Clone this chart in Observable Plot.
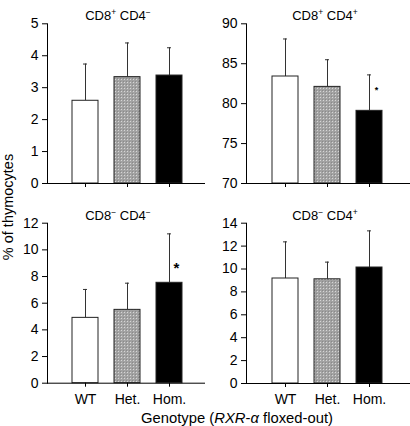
<!DOCTYPE html>
<html><head><meta charset="utf-8">
<script src="https://cdn.jsdelivr.net/npm/d3@7"></script>
<script src="https://cdn.jsdelivr.net/npm/@observablehq/plot@0.6"></script>
<style>
body{margin:0;background:#fff;}
#root{position:relative;width:410px;height:426px;font-family:"Liberation Sans",Arial,sans-serif;color:#000;overflow:hidden;}
.panel{position:absolute;}
.ttl{position:absolute;transform:translate(-50%,-50%);font-size:13px;white-space:nowrap;}
.ttl sup{font-size:8.5px;vertical-align:5px;line-height:0;}
.ylab{position:absolute;transform:translate(-50%,-50%) rotate(-90deg);font-size:14.5px;white-space:nowrap;}
.xlab{position:absolute;transform:translate(-50%,-50%);font-size:14.8px;white-space:nowrap;}
</style></head><body>
<svg width="0" height="0" style="position:absolute"><defs>
<pattern id="het" x="0" y="0" width="3" height="3" patternUnits="userSpaceOnUse">
<rect width="3" height="3" fill="#a2a2a2"/><rect x="1" y="1" width="1" height="1" fill="#d6d6d6"/><rect x="0" y="0" width="1" height="1" fill="#8a8a8a"/>
</pattern></defs></svg>
<div id="root"></div>
<script>
const genotypes = ["WT", "Het.", "Hom."];
const cd8Sign = ["+", "+", "\u2212", "\u2212"];
const cd4Sign = ["\u2212", "+", "\u2212", "+"];

const meanA = [2.59, 3.33, 3.38];   // CD8+ CD4-
const errA  = [3.74, 4.40, 4.25];
const sigA  = [null, null, null];
const meanB = [83.4, 82.1, 79.1];   // CD8+ CD4+
const errB  = [88.1, 85.5, 83.6];
const sigB  = [null, null, 81.7];
const meanC = [4.9, 5.5, 7.53];     // CD8- CD4-
const errC  = [7.03, 7.5, 11.2];
const sigC  = [null, null, 8.6];
const meanD = [9.17, 9.1, 10.13];   // CD8- CD4+
const errD  = [12.37, 10.6, 13.33];
const sigD  = [null, null, null];

const ticksA = [0, 1, 2, 3, 4, 5];
const ticksB = [70, 75, 80, 85, 90];
const ticksC = [0, 2, 4, 6, 8, 10, 12];
const ticksD = [0, 2, 4, 6, 8, 10, 12, 14];

const yTitle = "% of thymocytes";

const root = document.getElementById("root");

function panel(o) {
  const data = genotypes.map((g, i) => ({g, m: o.means[i], e: o.errs[i], s: o.sig[i]}));
  const base = o.ticks[0];
  const p = Plot.plot({
    width: o.width, height: o.height,
    marginLeft: o.mL, marginRight: 0, marginTop: o.mT, marginBottom: o.mB,
    style: {fontFamily: "Liberation Sans, Arial, sans-serif", fontSize: "14px", color: "#000", background: "transparent", overflow: "visible"},
    x: {domain: genotypes, paddingInner: 0.39, paddingOuter: 0.195, insetLeft: o.iL, insetRight: o.iR},
    y: {domain: [o.ticks[0], o.ticks[o.ticks.length - 1]]},
    color: {domain: genotypes, range: ["white", "url(#het)", "black"]},
    marks: [
      Plot.ruleX(data, {x: "g", y1: "m", y2: "e", stroke: "#333", strokeWidth: 1}),
      Plot.tickY(data, {x: "g", y: "e", stroke: "#333", insetLeft: 11, insetRight: 11}),
      Plot.barY(data, {x: "g", y1: base, y2: "m", fill: "g", stroke: "#222", strokeWidth: 1}),
      Plot.text(data.filter(d => d.s != null), {x: "g", y: "s", text: () => "*", dx: 7, fontSize: o.sigSize, fontWeight: "bold"}),
      Plot.ruleY([base], {stroke: "#000"}),
      Plot.frame({anchor: "left", stroke: "#000"}),
      Plot.axisY({ticks: o.ticks, tickSize: 5, tickPadding: 4, tickFormat: d => String(d), label: null}),
      Plot.axisX({tickSize: 4, tickPadding: 7, label: null, tickFormat: o.xLabels ? d => d : () => ""})
    ]
  });
  const div = document.createElement("div");
  div.className = "panel";
  div.style.left = o.left + "px";
  div.style.top = o.top + "px";
  div.appendChild(p);
  root.appendChild(div);
  const t = document.createElement("div");
  t.className = "ttl";
  t.style.left = o.tx + "px";
  t.style.top = o.ty + "px";
  t.innerHTML = `CD8<sup>${cd8Sign[o.k]}</sup> CD4<sup>${cd4Sign[o.k]}</sup>`;
  root.appendChild(t);
}

panel({k: 0, left: 0, top: 0, width: 205, height: 200, mL: 47, mT: 23.3, mB: 17, iL: 15.75, iR: 14.75,
  means: meanA, errs: errA, sig: sigA, ticks: ticksA, xLabels: false, tx: 118, ty: 15, sigSize: 14});
panel({k: 1, left: 205, top: 0, width: 205, height: 200, mL: 41, mT: 23.3, mB: 17, iL: 17.8, iR: 19.2,
  means: meanB, errs: errB, sig: sigB, ticks: ticksB, xLabels: false, tx: 325, ty: 15, sigSize: 9});
panel({k: 2, left: 0, top: 200, width: 205, height: 226, mL: 47, mT: 22.7, mB: 43.3, iL: 15.75, iR: 14.75,
  means: meanC, errs: errC, sig: sigC, ticks: ticksC, xLabels: true, tx: 118, ty: 215, sigSize: 15});
panel({k: 3, left: 205, top: 200, width: 205, height: 226, mL: 41, mT: 22.7, mB: 43, iL: 17.8, iR: 19.2,
  means: meanD, errs: errD, sig: sigD, ticks: ticksD, xLabels: true, tx: 325, ty: 215, sigSize: 14});

const yl = document.createElement("div");
yl.className = "ylab";
yl.style.left = "8px";
yl.style.top = "207px";
yl.textContent = yTitle;
root.appendChild(yl);

const xl = document.createElement("div");
xl.className = "xlab";
xl.style.left = "237px";
xl.style.top = "418px";
xl.innerHTML = "Genotype (<i>RXR</i>-<i>\u03b1</i> floxed-out)";
root.appendChild(xl);
</script>
</body></html>
